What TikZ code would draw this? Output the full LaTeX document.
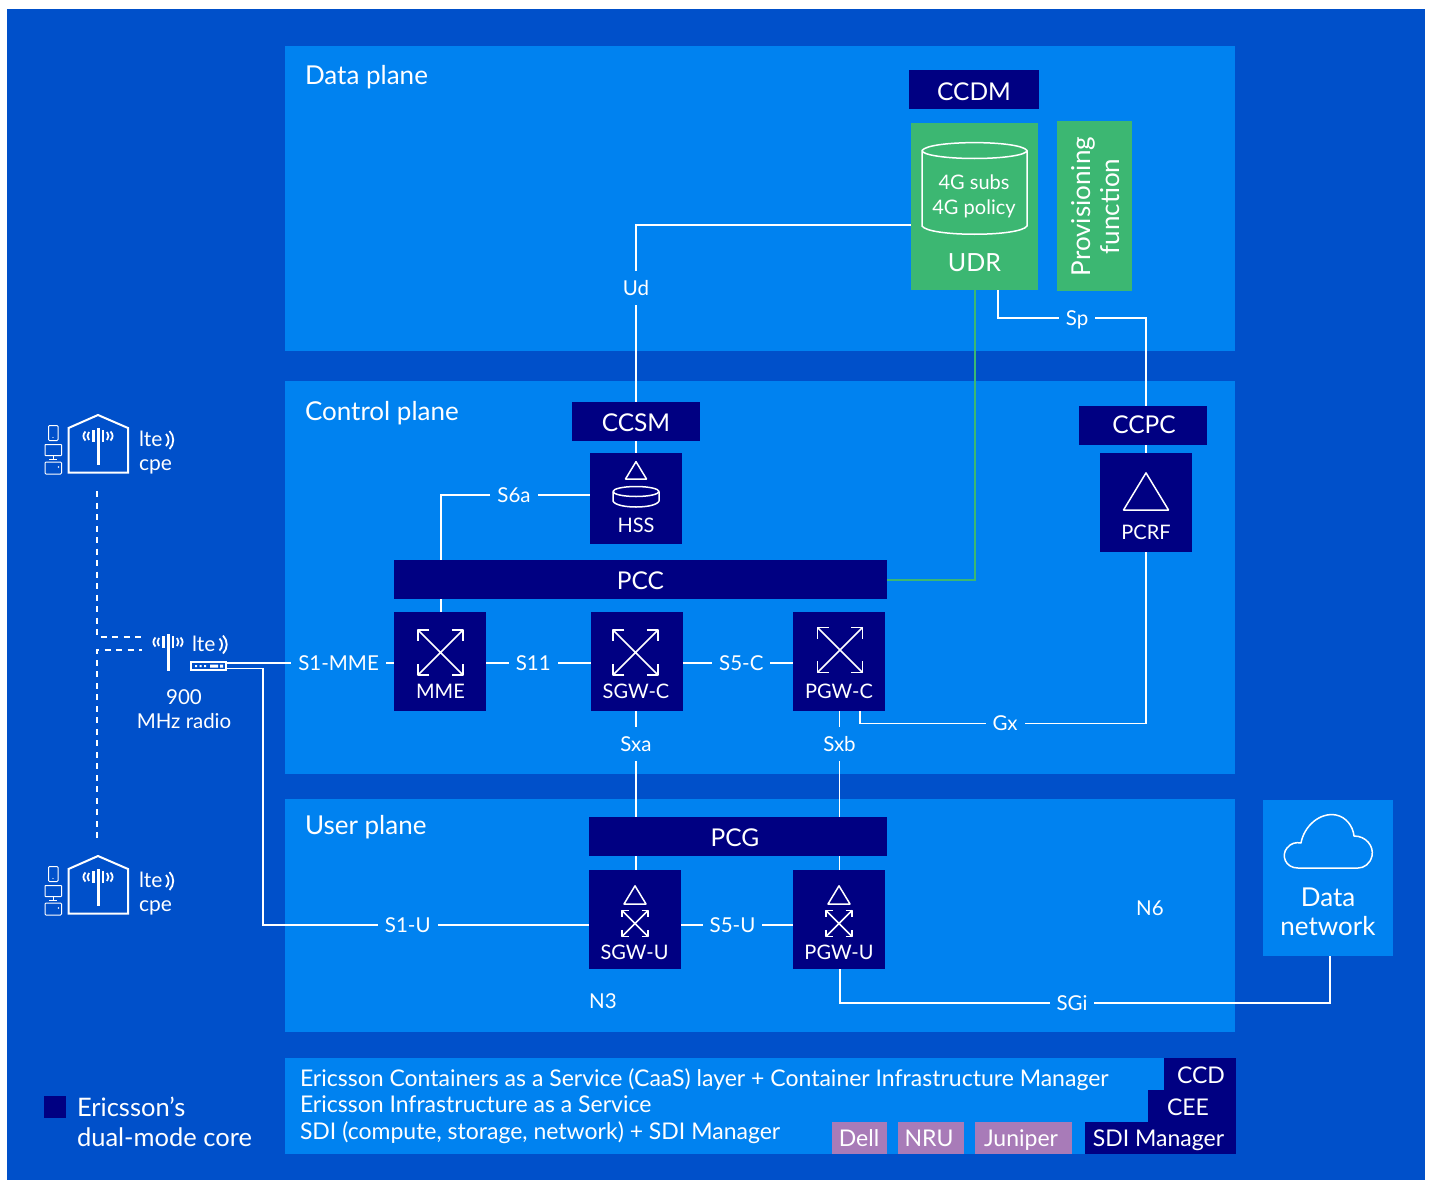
\documentclass[tikz,border=0pt]{standalone}
\usepackage{fontspec}
\setmainfont{Lato}
\usetikzlibrary{calc}
\definecolor{outerblue}{HTML}{0050CA}
\definecolor{panelblue}{HTML}{0082F0}
\definecolor{navy}{HTML}{000082}
\definecolor{ggreen}{HTML}{3CB772}
\definecolor{ppurple}{HTML}{A87BB8}
\newcommand\fz[2]{\fontsize{#1}{#2}\selectfont}
\pgfdeclarelayer{panels}
\pgfdeclarelayer{conn}
\pgfsetlayers{panels,conn,main}
\tikzset{
  every node/.style={text=white,inner sep=0pt,outer sep=0pt},
  rectat/.style 2 args={minimum width=#1,minimum height=#2},
  navybox/.style={fill=navy},
  greenbox/.style={fill=ggreen},
  purplebox/.style={fill=ppurple,font=\fz{23}{27}},
  panel/.style={fill=panelblue},
  barfont/.style={font=\fz{24.5}{30}},
  boxtext/.style={font=\fz{20}{26}},
  lab/.style={fill=panelblue,font=\fz{20.5}{24},inner xsep=7pt,inner ysep=10pt,text height=14.5pt,text depth=0pt},
  plain/.style={font=\fz{20.5}{26}},
  plane/.style={anchor=west,font=\fz{26}{30}},
  wire/.style={draw=white,line width=1.5pt},
  ic/.style={draw=white,line width=1.5pt,line join=round},
  dash line/.style={draw=white,line width=1.5pt,dash pattern=on 6pt off 5.5pt},
  xarrows/.pic={
    \pgfmathsetmacro\h{#1}\pgfmathsetmacro\l{#1*0.5}
    \draw[ic] (-\h,-\h)--(\h,\h) (\h,-\h)--(-\h,\h);
    \draw[ic] (-\h+\l,-\h)--(-\h,-\h)--(-\h,-\h+\l);
    \draw[ic] (\h-\l,-\h)--(\h,-\h)--(\h,-\h+\l);
    \draw[ic] (-\h+\l,\h)--(-\h,\h)--(-\h,\h-\l);
    \draw[ic] (\h-\l,\h)--(\h,\h)--(\h,\h-\l);
  },
  tri/.pic={
    \pgfmathsetmacro\w{#1}
    \draw[ic] (-\w,0)--(\w,0)--(0,-1.65*\w)--cycle;
  },
  waves/.pic={
    \draw[white,line width=1.8pt] (0,-6) .. controls (3.4,-3) and (3.4,3) .. (0,6);
    \draw[white,line width=1.8pt] (3.5,-9) .. controls (8.5,-4) and (8.5,4) .. (3.5,9);
  },
  antenna/.pic={
    \draw[white,line width=2.6pt] (0,0)--(0,37);
    \draw[white,line width=2.2pt] (-5,2)--(-5,14) (4.5,2)--(4.5,14);
    \draw[white,line width=1.8pt] (-9.5,4) .. controls (-11.5,6.5) and (-11.5,9.5) .. (-9.5,12);
    \draw[white,line width=1.8pt] (-13,3.5) .. controls (-15.8,6.5) and (-15.8,9.5) .. (-13,12.5);
    \draw[white,line width=1.8pt] (8.5,4) .. controls (10.5,6.5) and (10.5,9.5) .. (8.5,12);
    \draw[white,line width=1.8pt] (12,3.5) .. controls (14.8,6.5) and (14.8,9.5) .. (12,12.5);
  },
  cpeicon/.pic={
    \draw[white,line width=2pt,line join=miter] (68.5,472.5)--(68.5,428)--(98,415)--(128,428)--(128,472.5)--cycle;
    \pic at (98.5,428) {antenna};
    \draw[white,line width=1pt,rounded corners=1pt] (48.5,425.5) rectangle (58,440.5);
    \draw[white,line width=1pt,rounded corners=.5pt] (45,444.5) rectangle (61.5,455.5);
    \draw[white,line width=1pt] (53,455.5)--(53,459) (49,459)--(57,459);
    \draw[white,line width=1pt,rounded corners=1pt] (45,462) rectangle (61.5,474);
    \fill[white] (58.5,467) circle (.8);
    \fill[white] (53,437.5) circle (.6);
    \pic at (166,440) {waves};
  },
}
\begin{document}
\begin{tikzpicture}[x=1pt,y=-1pt]
\useasboundingbox (0,0) rectangle (1431,1180);
\begin{pgfonlayer}{panels}
\fill[white] (0,0) rectangle (1431,1180);
\fill[outerblue] (7,9) rectangle (1425,1180);
\end{pgfonlayer}
\begin{pgfonlayer}{panels}
\node[panel,rectat={950pt}{305pt}] (dataplane) at (760,198.5) {};
\node[panel,rectat={950pt}{393pt}] (controlplane) at (760,577.5) {};
\node[panel,rectat={950pt}{233pt}] (userplane) at (760,915.5) {};
\node[panel,rectat={950pt}{96pt}] (infra) at (760,1106) {};
\end{pgfonlayer}
\node[plane] (tdata) at (305,77) {Data plane};
\node[plane] (tcontrol) at (305,413) {Control plane};
\node[plane] (tuser) at (305,827) {User plane};

% data network
\node[panel,rectat={130pt}{156pt}] (dn) at (1328,878) {};
\draw[ic,line join=round] (1298,868) .. controls (1285,868) and (1281,855) .. (1287,848)
  .. controls (1291,843) and (1296,842) .. (1301,843)
  .. controls (1304,826) and (1320,812) .. (1336,815)
  .. controls (1346,817) and (1353,826) .. (1354,836)
  .. controls (1366,836) and (1374,846) .. (1372,856)
  .. controls (1370,864) and (1364,868) .. (1358,868) -- cycle;
\node[font=\fz{26}{29},align=center] (tdn) at (1328,912) {Data\\network};

% data plane boxes
\node[navybox,rectat={130pt}{39pt}] (ccdm) at (974,89.5) {};
\node[barfont] (tccdm) at (974,92) {CCDM};
\node[greenbox,rectat={127pt}{167pt}] (udr) at (974.5,206.5) {};
\node[greenbox,rectat={75pt}{170pt}] (prov) at (1094.5,206) {};
\node[rotate=90,align=center,font=\fz{26}{29}] (tprov) at (1095.5,206.5) {Provisioning\\function};
\draw[ic] (922,150.5) arc[start angle=180,end angle=0,x radius=52.5,y radius=8] -- (1027,226) .. controls (1020,237) and (929,237) .. (922,226) -- cycle;
\draw[ic] (922,150.5) .. controls (929,140) and (1020,140) .. (1027,150.5);
\node[font=\fz{20}{25},align=center] (tcyl) at (974,196.5) {4G subs\\4G policy};
\node[font=\fz{25}{29}] (tudr) at (974.5,262.5) {UDR};

% control plane boxes
\node[navybox,rectat={128pt}{39pt}] (ccsm) at (636,421.5) {};
\node[barfont] (tccsm) at (636,423) {CCSM};
\node[navybox,rectat={92pt}{91pt}] (hss) at (636,498.5) {};
\pic at (636,479) {tri=10.5};
\draw[ic] (613,491.5) arc[start angle=180,end angle=540,x radius=23,y radius=5];
\draw[ic] (613,491.5) -- (613,501) .. controls (616,509) and (656,509) .. (659,501) -- (659,491.5);
\node[boxtext] (thss) at (636,525) {HSS};
\node[navybox,rectat={128pt}{39pt}] (ccpc) at (1143,425.5) {};
\node[barfont] (tccpc) at (1144,424.5) {CCPC};
\node[navybox,rectat={92pt}{99pt}] (pcrf) at (1146,502.5) {};
\pic at (1146,510) {tri=22.5};
\node[boxtext] (tpcrf) at (1146,532) {PCRF};
\node[navybox,rectat={493pt}{39pt}] (pcc) at (640.5,579.5) {};
\node[barfont] (tpcc) at (640.5,580.5) {PCC};
\node[navybox,rectat={92pt}{99pt}] (mme) at (440,661.5) {};
\pic at (440.5,652.5) {xarrows=22.5};
\node[boxtext] (tmme) at (440.5,691) {MME};
\node[navybox,rectat={92pt}{99pt}] (sgwc) at (637,661.5) {};
\pic at (635.5,652.5) {xarrows=22.5};
\node[boxtext] (tsgwc) at (636,691) {SGW-C};
\node[navybox,rectat={92pt}{99pt}] (pgwc) at (839,661.5) {};
\pic at (840,650) {xarrows=22.5};
\node[boxtext] (tpgwc) at (839,691) {PGW-C};

% user plane boxes
\node[navybox,rectat={298pt}{39pt}] (pcg) at (738,836.5) {};
\node[barfont] (tpcg) at (735,838) {PCG};
\node[navybox,rectat={92pt}{99pt}] (sgwu) at (635,919.5) {};
\pic at (635,904) {tri=11};
\pic at (635,923.5) {xarrows=13};
\node[boxtext] (tsgwu) at (634.5,952) {SGW-U};
\node[navybox,rectat={92pt}{99pt}] (pgwu) at (839,919.5) {};
\pic at (839,904) {tri=11};
\pic at (839,923.5) {xarrows=13};
\node[boxtext] (tpgwu) at (839,952) {PGW-U};
\node[plain] (tn3) at (603,1001) {N3};
\node[plain] (tn6) at (1150,908) {N6};

% infrastructure band
\node[anchor=west,font=\fz{23}{27}] (tcaas) at (300,1080) {Ericsson Containers as a Service (CaaS) layer + Container Infrastructure Manager};
\node[anchor=west,font=\fz{23}{27}] (tiaas) at (300,1104) {Ericsson Infrastructure as a Service};
\node[anchor=west,font=\fz{23}{27}] (tsdi) at (300,1133) {SDI (compute, storage, network) + SDI Manager};
\node[navybox,rectat={72pt}{32pt}] (ccd) at (1200,1074) {};
\node[font=\fz{23}{27}] (tccd) at (1201,1075) {CCD};
\node[navybox,rectat={88pt}{32pt}] (cee) at (1192,1106) {};
\node[font=\fz{23}{27}] (tcee) at (1188,1107) {CEE};
\node[navybox,rectat={151pt}{32pt}] (sdim) at (1160.5,1138) {};
\node[font=\fz{23}{27}] (tsdim) at (1158.5,1140) {SDI Manager};
\node[purplebox,rectat={55pt}{32pt}] (dell) at (859.5,1138) {};
\node[font=\fz{23}{27}] (tdell) at (859,1138.5) {Dell};
\node[purplebox,rectat={66pt}{32pt}] (nru) at (931,1138) {};
\node[font=\fz{23}{27}] (tnru) at (929,1138.5) {NRU};
\node[purplebox,rectat={97pt}{32pt}] (juniper) at (1023.5,1138) {};
\node[font=\fz{23}{27}] (tjuniper) at (1021,1140) {Juniper};

% legend
\node[navybox,rectat={22pt}{22pt}] (legend) at (55,1107) {};
\node[anchor=west,font=\fz{25.5}{30},align=left] (tlegend) at (77,1122) {Ericsson’s\\dual-mode core};

% left side
\pic at (0,0) {cpeicon};
\node[anchor=west,font=\fz{21}{25}] (tlte1) at (139,439) {lte};
\node[anchor=west,font=\fz{21}{25}] (tcpe1) at (139,467) {cpe};
\pic at (0,441) {cpeicon};
\node[anchor=west,font=\fz{21}{25}] (tlte2) at (139,880) {lte};
\node[anchor=west,font=\fz{21}{25}] (tcpe2) at (139,908) {cpe};
\pic at (168.5,634) {antenna};
\node[anchor=west,font=\fz{21}{25}] (tlte3) at (192,644) {lte};
\pic at (219.5,644.5) {waves};
\node[draw=white,line width=1.8pt,rectat={35pt}{8pt}] (radio) at (208.5,666) {};
\fill[white] (195,665) rectangle +(2,2) (199.5,665) rectangle +(2,2) (204,665) rectangle +(2,2) (210,664.5) rectangle +(8,3) (220,664.5) rectangle +(3,3);
\node[font=\fz{20.5}{24},align=center] (tradio) at (184,709) {900\\MHz radio};

\coordinate (dtop) at (97,491);
\coordinate (dtopend) at (142,637);
\coordinate (dbot) at (97,838);
\coordinate (dbotend) at (142,650);
\draw[dash line] (dtop) |- (dtopend);
\draw[dash line] (dbot) |- (dbotend);

% connectors
\begin{pgfonlayer}{conn}
\draw[wire] ([yshift=-18.5pt]udr.west) -| node[lab,pos=.638] {Ud} (hss.north);
\draw[wire] ([xshift=23.5pt]udr.south) -- ++(0,28) -| node[lab,pos=.267] {Sp} (pcrf.north);
\draw[ggreen,line width=2pt] (udr.south) |- (pcc.east);
\draw[wire] ([yshift=3.5pt]hss.west) -| node[lab,pos=.255] {S6a} ([xshift=1pt]mme.north);
\draw[wire] ([yshift=3pt]radio.east) -- node[lab,pos=.67] {S1-MME} ([yshift=-1.5pt]mme.west);
\draw[wire] ([yshift=-1.5pt]mme.east) -- node[lab,pos=.45] {S11} ([yshift=-1.5pt]sgwc.west);
\draw[wire] ([yshift=-1.5pt]sgwc.east) -- node[lab,pos=.53] {S5-C} ([yshift=-1.5pt]pgwc.west);
\draw[wire] ([yshift=-2.5pt]radio.east) -- ++(37,0) |- node[lab,pos=.722] {S1-U} ([yshift=-5.5pt]sgwu.west);
\draw[wire] ([yshift=-5.5pt]sgwu.east) -- node[lab,pos=.46] {S5-U} ([yshift=-5.5pt]pgwu.west);
\draw[wire] ([xshift=-1pt]sgwc.south) -- node[lab,pos=.2075] {Sxa} ([xshift=1pt]sgwu.north);
\draw[wire] ([xshift=.5pt]pgwc.south) -- node[lab,pos=.2075] {Sxb} ([xshift=.5pt]pgwu.north);
\draw[wire] ([xshift=21pt]pgwc.south) -- ++(0,12.5) -| node[lab,pos=.2535] {Gx} (pcrf.south);
\draw[wire] ([xshift=1pt]pgwu.south) -- ++(0,34) -| node[lab,pos=.2367] {SGi} ([xshift=2pt]dn.south);
\end{pgfonlayer}
\end{tikzpicture}
\end{document}
